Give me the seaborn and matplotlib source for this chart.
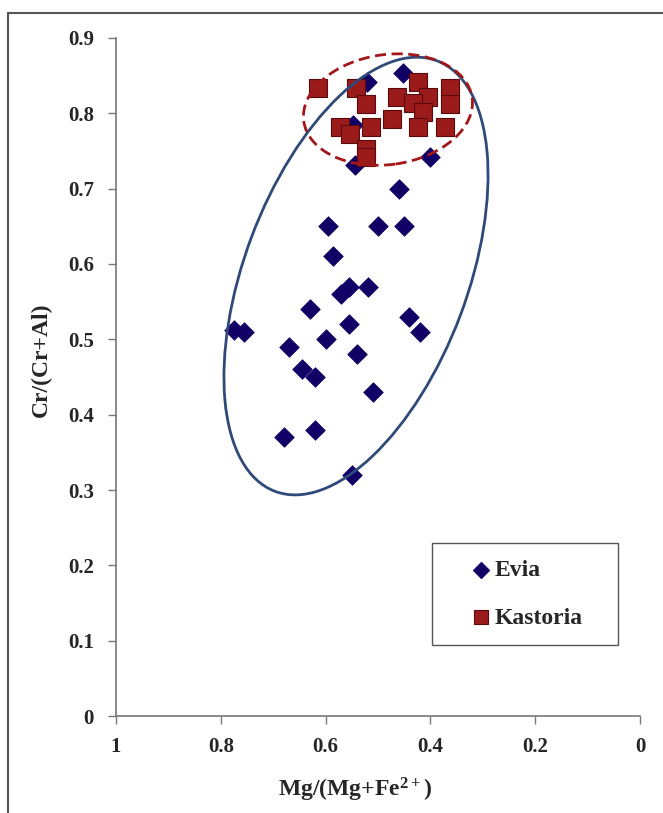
import matplotlib
matplotlib.use("Agg")
import matplotlib.pyplot as plt
import matplotlib.transforms as mtransforms
from matplotlib.patches import Ellipse, Rectangle
import seaborn as sns
import pandas as pd

# ---- data ----
evia_x = [0.775, 0.755, 0.67, 0.68, 0.645, 0.63, 0.62, 0.62, 0.60, 0.595,
          0.585, 0.57, 0.555, 0.555, 0.55, 0.54, 0.52, 0.51, 0.50, 0.46,
          0.45, 0.44, 0.42, 0.40, 0.452, 0.521, 0.544, 0.548]
evia_y = [0.513, 0.51, 0.49, 0.37, 0.46, 0.54, 0.45, 0.38, 0.50, 0.65,
          0.61, 0.56, 0.57, 0.52, 0.32, 0.48, 0.57, 0.43, 0.65, 0.70,
          0.65, 0.53, 0.51, 0.742, 0.854, 0.842, 0.732, 0.785]

kast_x = [0.614, 0.542, 0.523, 0.464, 0.424, 0.405, 0.433, 0.363, 0.363,
          0.414, 0.473, 0.573, 0.553, 0.513, 0.424, 0.372, 0.523, 0.523]
kast_y = [0.833, 0.833, 0.813, 0.822, 0.841, 0.822, 0.814, 0.833, 0.813,
          0.802, 0.793, 0.782, 0.773, 0.782, 0.782, 0.782, 0.753, 0.742]

x_ticks = [1, 0.8, 0.6, 0.4, 0.2, 0]
x_ticklabels = ["1", "0.8", "0.6", "0.4", "0.2", "0"]
y_ticks = [0, 0.1, 0.2, 0.3, 0.4, 0.5, 0.6, 0.7, 0.8, 0.9]
y_ticklabels = ["0", "0.1", "0.2", "0.3", "0.4", "0.5", "0.6", "0.7", "0.8", "0.9"]

evia = pd.DataFrame({"x": evia_x, "y": evia_y})
kast = pd.DataFrame({"x": kast_x, "y": kast_y})

sns.set_style("white")
plt.rcParams["font.family"] = ["Liberation Serif", "DejaVu Serif"]
plt.rcParams["mathtext.fontset"] = "custom"
plt.rcParams["mathtext.rm"] = "Liberation Serif"
plt.rcParams["mathtext.bf"] = "Liberation Serif:bold"

W, H = 663, 813
fig = plt.figure(figsize=(W / 100, H / 100), dpi=100)
ax = fig.add_axes([116 / W, 1 - 716 / H, 524 / W, 678 / H])

sns.scatterplot(data=evia, x="x", y="y", ax=ax, marker="D", s=100,
                color="#110066", edgecolor="#110066", linewidth=0.5,
                label="Evia", zorder=3)
sns.scatterplot(data=kast, x="x", y="y", ax=ax, marker="s", s=150,
                color="#9B1B1B", edgecolor="#5A0A0A", linewidth=0.8,
                label="Kastoria", zorder=4)

# ellipses (sized in pixels around a data-space centre)
def add_ellipse(cx, cy, w_px, h_px, angle, **kw):
    trans = fig.dpi_scale_trans + mtransforms.ScaledTranslation(cx, cy, ax.transData)
    e = Ellipse((0, 0), w_px / 100, h_px / 100, angle=angle, transform=trans,
                fill=False, **kw)
    ax.add_patch(e)

add_ellipse(0.542, 0.584, 460, 223, 69.4, edgecolor="#2F4A78", linewidth=2.0, zorder=5)
add_ellipse(0.481, 0.805, 170, 110, 8, edgecolor="#A3161A", linewidth=2.0,
            linestyle=(0, (4, 2)), zorder=6)

ax.set_xlim(1, 0)
ax.set_ylim(0, 0.9)
ax.set_xticks(x_ticks)
ax.set_xticklabels(x_ticklabels)
ax.set_yticks(y_ticks)
ax.set_yticklabels(y_ticklabels)
for lab in ax.get_xticklabels() + ax.get_yticklabels():
    lab.set_fontweight("bold")
    lab.set_fontsize(15)
ax.tick_params(axis="both", direction="out", length=6, width=1, color="#777777",
               left=True, bottom=True)
ax.tick_params(axis="x", pad=9)
ax.tick_params(axis="y", pad=10)

for side in ["top", "right"]:
    ax.spines[side].set_visible(False)
for side in ["left", "bottom"]:
    ax.spines[side].set_color("#777777")
    ax.spines[side].set_linewidth(1.2)

ax.set_xlabel(r"Mg/(Mg+Fe$\mathbf{^{2+}}$)", fontsize=17, fontweight="bold")
ax.set_ylabel("Cr/(Cr+Al)", fontsize=17, fontweight="bold")
ax.xaxis.set_label_coords((355 - 116) / 524, (716 - 790) / 678)
ax.yaxis.set_label_coords((41 - 116) / 524, (716 - 360) / 678)
ax.xaxis.label.set_verticalalignment("center")
ax.yaxis.label.set_verticalalignment("center")

# legend: frameless content + explicit frame
leg = ax.legend(loc="center", bbox_to_anchor=((526 - 116) / 524, (716 - 594) / 678),
                prop={"weight": "bold", "size": 17}, frameon=False,
                labelspacing=1.1, handletextpad=0.05, handlelength=1.0,
                borderpad=0, markerscale=0.85)
fig.patches.append(Rectangle((432 / W, 1 - 645 / H), (618 - 432) / W, (645 - 543) / H,
                             transform=fig.transFigure, fill=False,
                             edgecolor="#555555", linewidth=1.0))

# outer border
fig.patches.append(Rectangle((8 / W, -0.01), 1.0, 1 - 13 / H + 0.01,
                             transform=fig.transFigure, fill=False,
                             edgecolor="#555555", linewidth=1.5))

fig.savefig("out.png", dpi=100)
